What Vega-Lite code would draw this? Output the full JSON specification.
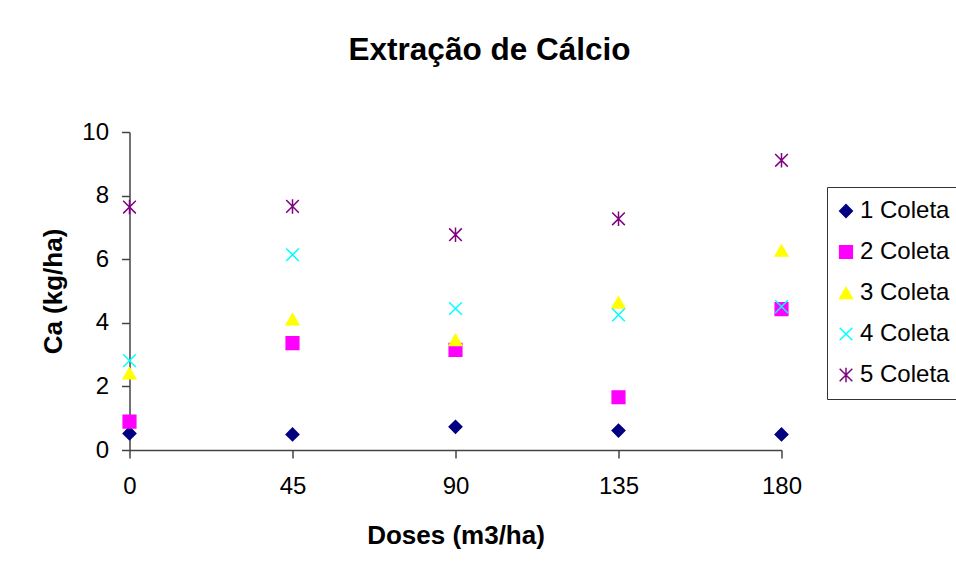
{
  "$schema": "https://vega.github.io/schema/vega-lite/v6.json",
  "width": 652,
  "height": 318,
  "autosize": {"type": "none"},
  "padding": {"left": 129.5, "top": 132, "right": 174.5, "bottom": 122},
  "background": "white",
  "config": {
    "font": "Liberation Sans",
    "view": {"stroke": null},
    "axis": {
      "grid": false,
      "domainColor": "#444444",
      "tickColor": "#444444",
      "domainWidth": 1.5,
      "tickWidth": 1.5,
      "tickSize": 8,
      "labelFont": "Liberation Sans",
      "labelFontSize": 24,
      "labelColor": "black",
      "labelFlush": false,
      "titleFont": "Liberation Sans",
      "titleFontSize": 26,
      "titleFontWeight": "bold",
      "titleColor": "black"
    }
  },
  "title": {
    "text": "Extração de Cálcio",
    "font": "Liberation Sans",
    "fontSize": 31.5,
    "fontWeight": "bold",
    "color": "black",
    "anchor": "middle",
    "baseline": "alphabetic",
    "offset": 29,
    "dx": 34
  },
  "data": {
    "values": [
      {"dose": 0, "ca": 0.52, "serie": "1 Coleta"},
      {"dose": 45, "ca": 0.49, "serie": "1 Coleta"},
      {"dose": 90, "ca": 0.73, "serie": "1 Coleta"},
      {"dose": 135, "ca": 0.61, "serie": "1 Coleta"},
      {"dose": 180, "ca": 0.49, "serie": "1 Coleta"},
      {"dose": 0, "ca": 0.89, "serie": "2 Coleta"},
      {"dose": 45, "ca": 3.36, "serie": "2 Coleta"},
      {"dose": 90, "ca": 3.15, "serie": "2 Coleta"},
      {"dose": 135, "ca": 1.66, "serie": "2 Coleta"},
      {"dose": 180, "ca": 4.43, "serie": "2 Coleta"},
      {"dose": 0, "ca": 2.41, "serie": "3 Coleta"},
      {"dose": 45, "ca": 4.11, "serie": "3 Coleta"},
      {"dose": 90, "ca": 3.46, "serie": "3 Coleta"},
      {"dose": 135, "ca": 4.64, "serie": "3 Coleta"},
      {"dose": 180, "ca": 6.27, "serie": "3 Coleta"},
      {"dose": 0, "ca": 2.81, "serie": "4 Coleta"},
      {"dose": 45, "ca": 6.14, "serie": "4 Coleta"},
      {"dose": 90, "ca": 4.45, "serie": "4 Coleta"},
      {"dose": 135, "ca": 4.25, "serie": "4 Coleta"},
      {"dose": 180, "ca": 4.51, "serie": "4 Coleta"},
      {"dose": 0, "ca": 7.64, "serie": "5 Coleta"},
      {"dose": 45, "ca": 7.66, "serie": "5 Coleta"},
      {"dose": 90, "ca": 6.77, "serie": "5 Coleta"},
      {"dose": 135, "ca": 7.27, "serie": "5 Coleta"},
      {"dose": 180, "ca": 9.11, "serie": "5 Coleta"}
    ]
  },
  "mark": {"type": "point", "filled": true, "size": 160, "strokeWidth": 1.5, "opacity": 1, "clip": false},
  "encoding": {
    "x": {
      "field": "dose",
      "type": "quantitative",
      "title": "Doses (m3/ha)",
      "scale": {"domain": [0, 180], "nice": false, "zero": true},
      "axis": {"values": [0, 45, 90, 135, 180], "labelPadding": 16.5, "titlePadding": 24}
    },
    "y": {
      "field": "ca",
      "type": "quantitative",
      "title": "Ca (kg/ha)",
      "scale": {"domain": [0, 10], "nice": false},
      "axis": {"values": [0, 2, 4, 6, 8, 10], "labelPadding": 13, "titlePadding": 15.5}
    },
    "fill": {
      "field": "serie",
      "type": "nominal",
      "scale": {
        "domain": ["1 Coleta", "2 Coleta", "3 Coleta", "4 Coleta", "5 Coleta"],
        "range": ["#000080", "#FF00FF", "#FFFF00", "#00FFFF", "#800080"]
      },
      "legend": {
        "title": null,
        "orient": "none",
        "legendX": 697.5,
        "legendY": 55,
        "strokeColor": "#333333",
        "fillColor": "white",
        "padding": 12,
        "rowPadding": 17,
        "labelFontSize": 24,
        "labelFont": "Liberation Sans",
        "labelColor": "black",
        "labelOffset": 2,
        "symbolOffset": -5,
        "symbolSize": 160,
        "symbolStrokeWidth": 1.5,
        "symbolOpacity": 1
      }
    },
    "stroke": {
      "field": "serie",
      "type": "nominal",
      "scale": {
        "domain": ["1 Coleta", "2 Coleta", "3 Coleta", "4 Coleta", "5 Coleta"],
        "range": ["#000080", "#FF00FF", "#FFFF00", "#00FFFF", "#800080"]
      }
    },
    "shape": {
      "field": "serie",
      "type": "nominal",
      "scale": {
        "domain": ["1 Coleta", "2 Coleta", "3 Coleta", "4 Coleta", "5 Coleta"],
        "range": [
          "diamond",
          "square",
          "triangle-up",
          "M-1,-1L1,1M-1,1L1,-1",
          "M-1,-1L1,1M-1,1L1,-1M0,-1.15L0,1.15"
        ]
      }
    }
  }
}
